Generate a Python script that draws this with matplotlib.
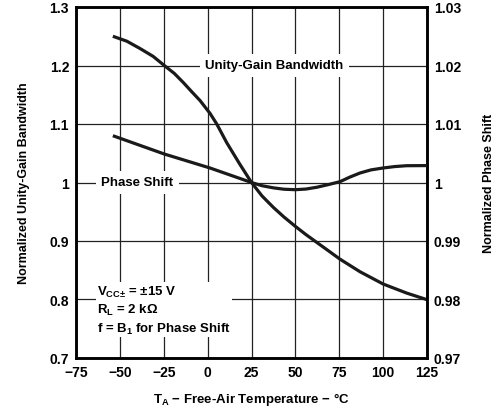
import matplotlib.pyplot as plt

plt.rcParams["font.family"] = ["Liberation Sans", "DejaVu Sans"]
plt.rcParams["font.weight"] = "bold"
plt.rcParams["axes.labelweight"] = "bold"
plt.rcParams["mathtext.default"] = "regular"

# normalized unity-gain bandwidth (left axis)
temp_ugb = [-54, -46, -38.5, -31, -24.7, -19, -13.9, -9, -4.3, 1.4, 5.2, 10.9, 18.4, 25,
            31, 37.4, 43.5, 50, 56, 62.1, 68.5, 75.4, 86.8, 100, 113.4, 125]
ugb = [1.25, 1.2415, 1.229, 1.2155, 1.2, 1.1865, 1.171, 1.155, 1.140, 1.118, 1.100, 1.068,
       1.031, 1.0, 0.977, 0.9576, 0.941, 0.925, 0.911, 0.8978, 0.884, 0.869, 0.8475,
       0.8265, 0.811, 0.7997]

# normalized phase shift (right axis)
temp_ps = [-54, -24.7, 1.35, 25, 31, 37.4, 43.5, 50, 56, 62.1, 68.5, 75.4, 81, 86.8,
           93, 100, 106.5, 113.4, 125]
phase = [1.0080, 1.00487, 1.00248, 1.0, 0.99945, 0.99909, 0.99885, 0.99877, 0.99888,
         0.99918, 0.99962, 1.00014, 1.00092, 1.00162, 1.00215, 1.00248, 1.00272,
         1.00287, 1.00289]

x_ticks = [-75, -50, -25, 0, 25, 50, 75, 100, 125]
x_labels = ["\u221275", "\u221250", "\u221225", "0", "25", "50", "75", "100", "125"]
left_ticks = [0.7, 0.8, 0.9, 1.0, 1.1, 1.2, 1.3]
left_labels = ["0.7", "0.8", "0.9", "1", "1.1", "1.2", "1.3"]
right_ticks = [0.97, 0.98, 0.99, 1.0, 1.01, 1.02, 1.03]
right_labels = ["0.97", "0.98", "0.99", "1", "1.01", "1.02", "1.03"]

fig = plt.figure(figsize=(4.97, 4.10), dpi=100)
ax = fig.add_axes([76 / 497, 51 / 410, 351 / 497, 351 / 410])
ax2 = ax.twinx()

ax.set_xlim(-75, 125)
ax.set_ylim(0.7, 1.3)
ax2.set_ylim(0.97, 1.03)

ax.set_xticks(x_ticks)
ax.set_xticklabels(x_labels)
ax.set_yticks(left_ticks)
ax.set_yticklabels(left_labels)
ax2.set_yticks(right_ticks)
ax2.set_yticklabels(right_labels)

ax.grid(True, color="#222222", linewidth=0.9)
ax.tick_params(length=0, labelsize=10, pad=5)
ax2.tick_params(length=0, labelsize=10, pad=5)

for a in (ax, ax2):
    for s in a.spines.values():
        s.set_linewidth(1.8)

ax.plot(temp_ugb, ugb, color="#1a1a1a", linewidth=2.3, zorder=5,
        solid_joinstyle="round", solid_capstyle="butt")
ax2.plot(temp_ps, phase, color="#1a1a1a", linewidth=2.3, zorder=5,
         solid_joinstyle="round", solid_capstyle="butt")

ax.text(38, 1.2, "Unity-Gain Bandwidth", fontsize=9.5, ha="center", va="center",
        bbox=dict(facecolor="white", edgecolor="none", pad=4), zorder=3)
ax.text(-40, 1.0, "Phase Shift", fontsize=9.5, ha="center", va="center",
        bbox=dict(facecolor="white", edgecolor="none", pad=4), zorder=3)

ax.text(-63, 0.738,
        "V$_{CC\u00b1}$ = \u00b115 V\nR$_L$ = 2 k\u03a9\nf = B$_1$ for Phase Shift",
        fontsize=9.5, ha="left", va="bottom", linespacing=1.3,
        bbox=dict(facecolor="white", edgecolor="none", pad=1), zorder=3)

ax.set_xlabel("T$_A$ \u2212 Free-Air Temperature \u2212 \u00b0C", fontsize=9.5, labelpad=8)
ax.set_ylabel("Normalized Unity-Gain Bandwidth", fontsize=9, labelpad=14)
ax2.set_ylabel("Normalized Phase Shift", fontsize=9, labelpad=16)

fig.savefig("out.png", dpi=100)
